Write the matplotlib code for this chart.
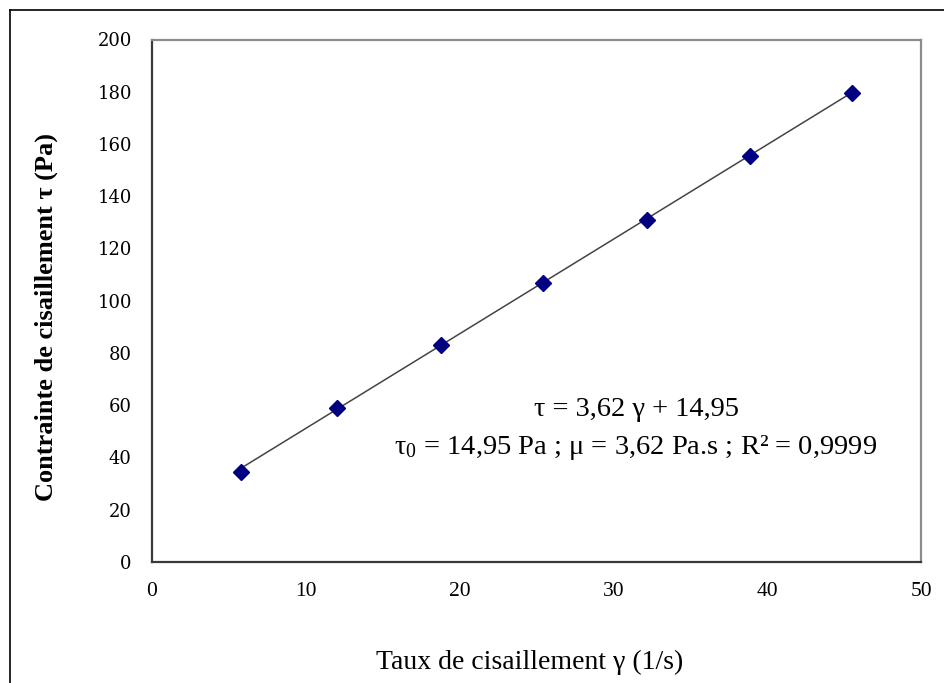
import matplotlib
matplotlib.use("Agg")
import matplotlib.pyplot as plt
from matplotlib.lines import Line2D
import numpy as np

plt.rcParams["mathtext.fontset"] = "custom"
plt.rcParams["mathtext.rm"] = "Liberation Serif"
plt.rcParams["mathtext.it"] = "Liberation Serif:italic"

# Shear rate (1/s) and shear stress (Pa)
shear_rate = [5.77, 12.05, 18.79, 25.42, 32.16, 38.87, 45.53]
shear_stress = [34.6, 58.8, 83.0, 106.8, 130.8, 155.3, 179.4]

# Linear fit (Bingham model)
slope = 3.62
intercept = 14.95
r_squared = 0.9999

x_ticks = [0, 10, 20, 30, 40, 50]
y_ticks = [0, 20, 40, 60, 80, 100, 120, 140, 160, 180, 200]

W, H = 945, 683
fig = plt.figure(figsize=(W / 100, H / 100), dpi=100)
fig.patch.set_facecolor("white")

# Outer frame (top and left edges)
fig.add_artist(Line2D([10 / W, 10 / W], [0, 1 - 10 / H], transform=fig.transFigure,
                      color="black", lw=1.2))
fig.add_artist(Line2D([10 / W, 1], [1 - 10 / H, 1 - 10 / H], transform=fig.transFigure,
                      color="black", lw=1.2))

left, right, top, bottom = 152, 921, 39.5, 562
ax = fig.add_axes([left / W, 1 - bottom / H, (right - left) / W, (bottom - top) / H])

serif = ["Liberation Serif", "DejaVu Serif"]

# Trendline across the data range
xf = np.array([min(shear_rate), max(shear_rate)])
ax.plot(xf, slope * xf + intercept, color="#444444", lw=1.1, zorder=2)
ax.plot(shear_rate, shear_stress, linestyle="none", marker="D", markersize=8,
        color="#000080", zorder=3)

ax.set_xlim(0, 50)
ax.set_ylim(0, 200)
ax.set_xticks(x_ticks)
ax.set_yticks(y_ticks)
ax.set_xticklabels([str(v) for v in x_ticks], fontfamily=serif, fontsize=15.5)
ax.set_yticklabels([str(v) for v in y_ticks], fontfamily=["DejaVu Serif"], fontsize=13)
ax.tick_params(axis="both", length=0)
ax.tick_params(axis="x", pad=14.5)
ax.tick_params(axis="y", pad=14.5)

for side in ("left", "bottom"):
    ax.spines[side].set_color("#3a3a3a")
    ax.spines[side].set_linewidth(1.6)
for side in ("top", "right"):
    ax.spines[side].set_color("#8c8c8c")
    ax.spines[side].set_linewidth(1.6)

fig.text(530 / W, 1 - 662 / H, "Taux de cisaillement γ (1/s)", ha="center", va="center",
         fontfamily=serif, fontsize=20)
fig.text(46 / W, 1 - 317 / H, "Contrainte de cisaillement τ (Pa)", ha="center", va="center",
         rotation=90, fontfamily=serif, fontsize=19, fontweight="bold")

fmt = lambda v, d: f"{v:.{d}f}".replace(".", ",")
fig.text(636 / W, 1 - 410 / H, f"τ = {fmt(slope, 2)} γ + {fmt(intercept, 2)}",
         ha="center", va="center", fontfamily=serif, fontsize=20.5)
fig.text(636 / W, 1 - 447 / H,
         f"τ$_\\mathrm{{0}}$ = {fmt(intercept, 2)} Pa ; μ = {fmt(slope, 2)} Pa.s ; R² = {fmt(r_squared, 4)}",
         ha="center", va="center", fontfamily=serif, fontsize=20.5)

fig.savefig("out.png", dpi=100, facecolor="white")
